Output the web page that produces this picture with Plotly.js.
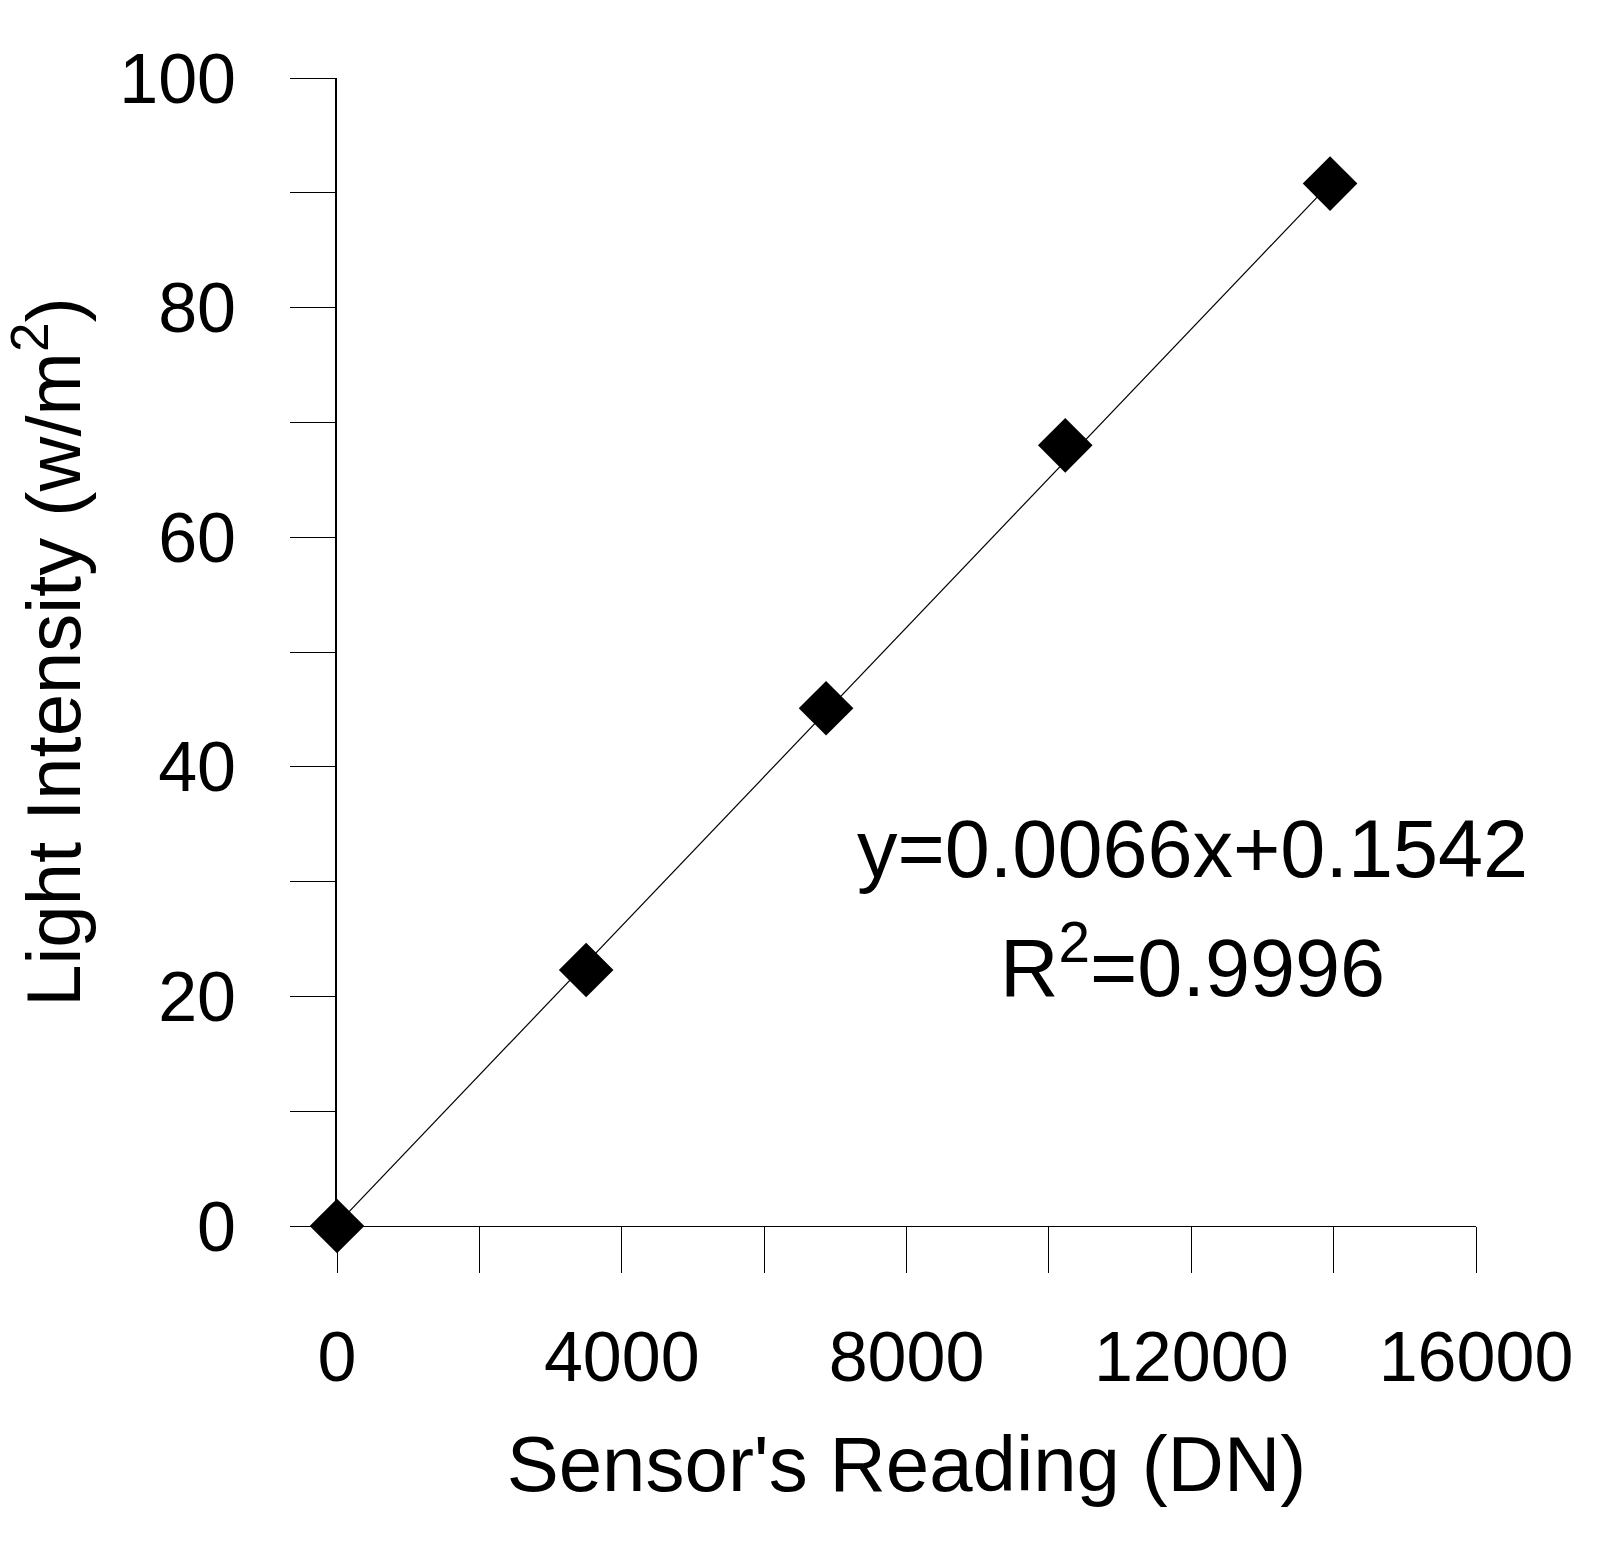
<!DOCTYPE html>
<html>
<head>
<meta charset="utf-8">
<script src="https://cdn.plot.ly/plotly-3.0.1.min.js"></script>
<style>html,body{margin:0;padding:0;background:#fff;}</style>
</head>
<body>
<div id="chart" style="width:1606px;height:1541px;"></div>
<script>
// Data
const sensorReading = [0, 3500, 6870, 10230, 13950];
const lightIntensity = [0, 22.3, 45.1, 68.0, 90.8];
// Trend line end points (as drawn)
const trendX = [0, 13950];
const trendY = [0.15, 90.8];
const equationText = 'y=0.0066x+0.1542';
const r2Text = 'R<sup>2</sup>=0.9996';
const xTitle = "Sensor's Reading (DN)";
const yTitle = 'Light Intensity (w/m<sup>2</sup>)';

const FONT = '"Liberation Sans", Arial, sans-serif';

const traces = [
  {
    x: trendX, y: trendY, mode: 'lines', type: 'scatter',
    line: {color: '#000', width: 1.2}, hoverinfo: 'skip', showlegend: false
  },
  {
    x: sensorReading, y: lightIntensity, mode: 'markers', type: 'scatter',
    marker: {symbol: 'diamond', size: 42, color: '#000', line: {width: 0}},
    cliponaxis: false, showlegend: false
  }
];

const layout = {
  width: 1606, height: 1541,
  margin: {l: 337, r: 130, t: 78, b: 315},
  paper_bgcolor: '#fff', plot_bgcolor: '#fff',
  font: {family: FONT, color: '#000'},
  showlegend: false,
  xaxis: {
    range: [0, 16000], dtick: 4000, tick0: 0, tickformat: 'd',
    showgrid: false, zeroline: false,
    showline: true, linecolor: '#000', linewidth: 1,
    ticks: 'outside', ticklen: 46, tickwidth: 1, tickcolor: '#000',
    minor: {dtick: 2000, ticks: 'outside', ticklen: 46, tickwidth: 1, tickcolor: '#000', showgrid: false},
    tickfont: {size: 70, family: FONT, color: '#000'},
    ticklabelstandoff: 24,
    title: {text: xTitle, font: {size: 78, family: FONT, color: '#000'}, standoff: 41},
    automargin: false, fixedrange: true
  },
  yaxis: {
    range: [0, 100], dtick: 20, tick0: 0,
    showgrid: false, zeroline: false,
    showline: true, linecolor: '#000', linewidth: 2,
    ticks: 'outside', ticklen: 45, tickwidth: 1, tickcolor: '#000',
    minor: {dtick: 10, ticks: 'outside', ticklen: 45, tickwidth: 1, tickcolor: '#000', showgrid: false},
    tickfont: {size: 70, family: FONT, color: '#000'},
    ticklabelstandoff: 40,
    title: {text: yTitle, font: {size: 76, family: FONT, color: '#000'}, standoff: 40},
    automargin: false, fixedrange: true
  },
  annotations: [
    {
      x: 12020, y: 32.85, xref: 'x', yref: 'y',
      text: equationText,
      showarrow: false, align: 'center', xanchor: 'center', yanchor: 'middle',
      font: {size: 81, family: FONT, color: '#000'}
    },
    {
      x: 12020, y: 23.0, xref: 'x', yref: 'y',
      text: r2Text,
      showarrow: false, align: 'center', xanchor: 'center', yanchor: 'middle',
      font: {size: 81, family: FONT, color: '#000'}
    }
  ]
};

Plotly.newPlot('chart', traces, layout, {staticPlot: true, displayModeBar: false});
</script>
</body>
</html>
